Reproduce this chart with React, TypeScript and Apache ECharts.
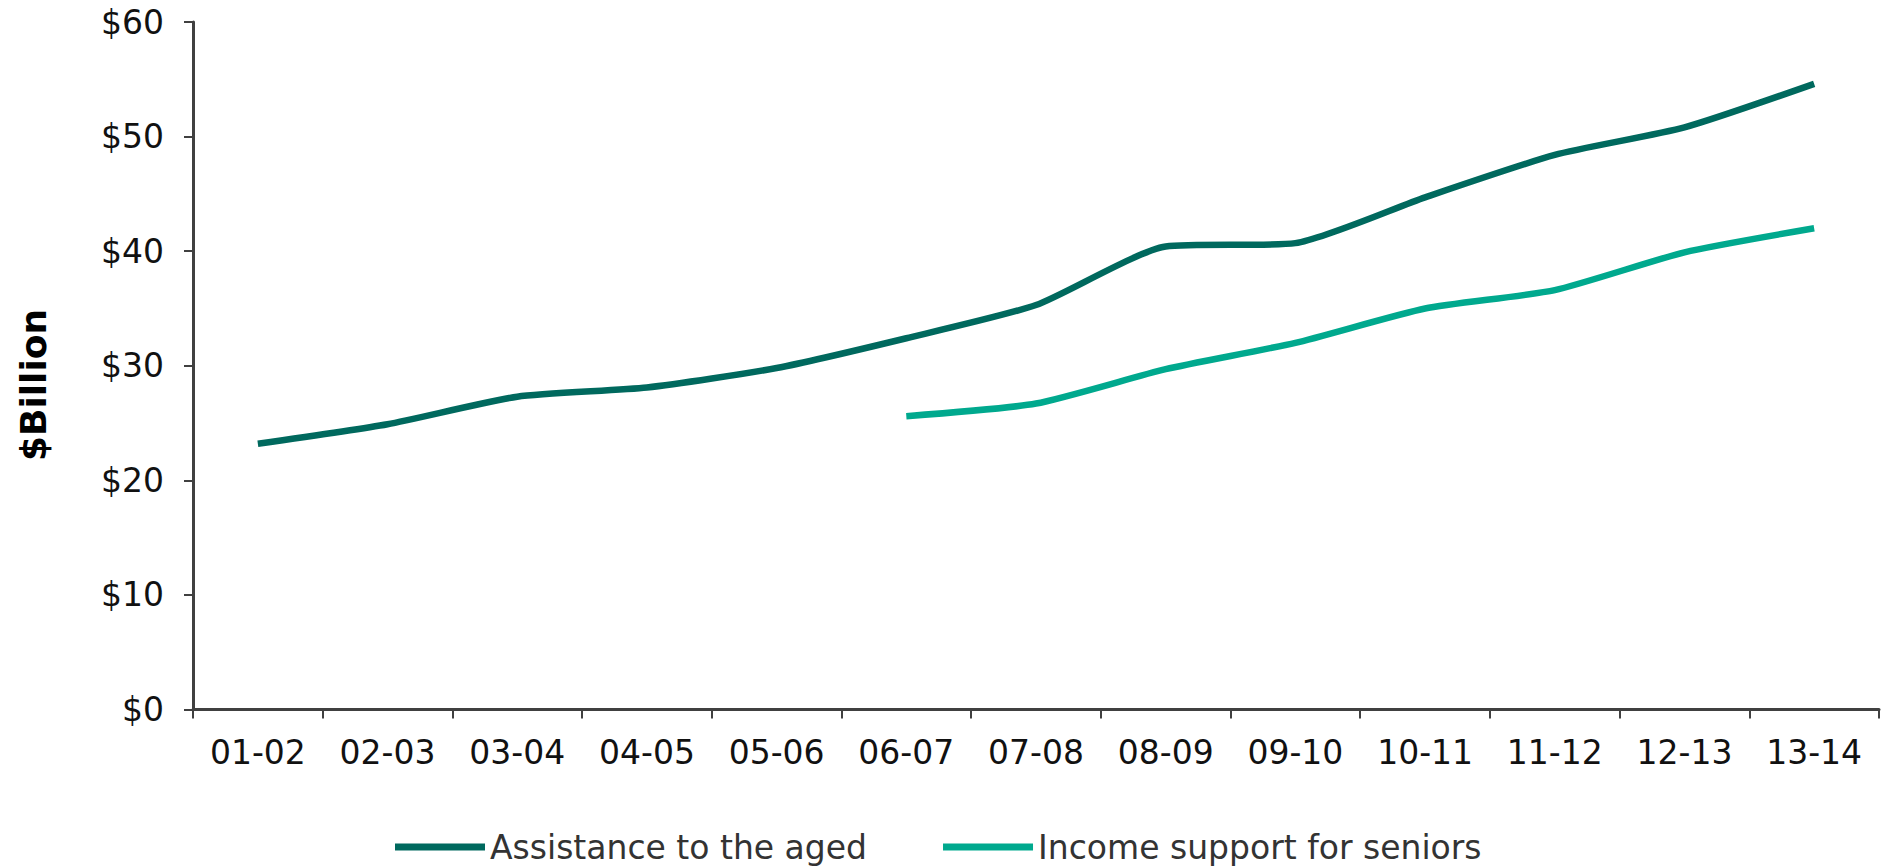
import React, { useEffect, useRef } from "react";
import * as echarts from "echarts";

const categories = ["01-02", "02-03", "03-04", "04-05", "05-06", "06-07", "07-08", "08-09", "09-10", "10-11", "11-12", "12-13", "13-14"];
const assistanceAged = [23.2, 24.9, 27.3, 28.1, 29.8, 32.4, 35.3, 40.4, 40.7, 44.7, 48.4, 50.8, 54.6];
const incomeSeniors = [null, null, null, null, null, 25.6, 26.7, 29.7, 32.0, 35.0, 36.6, 39.9, 42.0];
const seriesNames = ["Assistance to the aged", "Income support for seniors"];
const yTicks = { min: 0, max: 60, interval: 10 };
const yTitle = "$Billion";

const FONT = "'DejaVu Sans', Verdana, sans-serif";

export default function App() {
  const ref = useRef<HTMLDivElement>(null);
  useEffect(() => {
    if (!ref.current) return;
    const chart = echarts.init(ref.current, undefined, { renderer: "svg" });
    chart.setOption({
      animation: false,
      backgroundColor: "#ffffff",
      grid: { left: 193, right: 5, top: 22, bottom: 158.5, containLabel: false },
      legend: {
        left: 395,
        top: 829,
        padding: 0,
        itemWidth: 90,
        itemHeight: 7,
        itemGap: 76,
        icon: "rect",
        textStyle: { fontFamily: FONT, fontSize: 33, color: "#333333", lineHeight: 36 },
        data: seriesNames,
      },
      graphic: [
        {
          type: "text",
          x: 33,
          y: 385,
          rotation: Math.PI / 2,
          style: {
            text: yTitle,
            fontFamily: FONT,
            fontSize: 36,
            fontWeight: "bold",
            fill: "#000000",
            align: "center",
            verticalAlign: "middle",
          },
        },
      ],
      xAxis: {
        type: "category",
        data: categories,
        boundaryGap: true,
        axisLine: { show: true, lineStyle: { color: "#404040", width: 3 } },
        axisTick: { show: true, length: 9, lineStyle: { color: "#404040", width: 2 } },
        axisLabel: { fontFamily: FONT, fontSize: 33, color: "#111111", margin: 26, interval: 0 },
        splitLine: { show: false },
      },
      yAxis: {
        type: "value",
        min: yTicks.min,
        max: yTicks.max,
        interval: yTicks.interval,
        axisLine: { show: true, lineStyle: { color: "#404040", width: 3 } },
        axisTick: { show: true, length: 9, lineStyle: { color: "#404040", width: 2 } },
        axisLabel: {
          fontFamily: FONT,
          fontSize: 33,
          color: "#111111",
          margin: 29,
          formatter: (v: number) => "$" + v,
        },
        splitLine: { show: false },
      },
      series: [
        {
          name: seriesNames[0],
          type: "line",
          data: assistanceAged,
          showSymbol: false,
          symbol: "none",
          smooth: 0.2,
          lineStyle: { color: "#00695E", width: 6.5, join: "round", cap: "butt" },
          itemStyle: { color: "#00695E" },
        },
        {
          name: seriesNames[1],
          type: "line",
          data: incomeSeniors,
          showSymbol: false,
          symbol: "none",
          smooth: 0.2,
          connectNulls: false,
          lineStyle: { color: "#00A98E", width: 6.5, join: "round", cap: "butt" },
          itemStyle: { color: "#00A98E" },
        },
      ],
    });
    return () => chart.dispose();
  }, []);
  return (
    <div
      ref={ref}
      style={{ position: "absolute", left: 0, top: 0, width: 1884, height: 868 }}
    />
  );
}
